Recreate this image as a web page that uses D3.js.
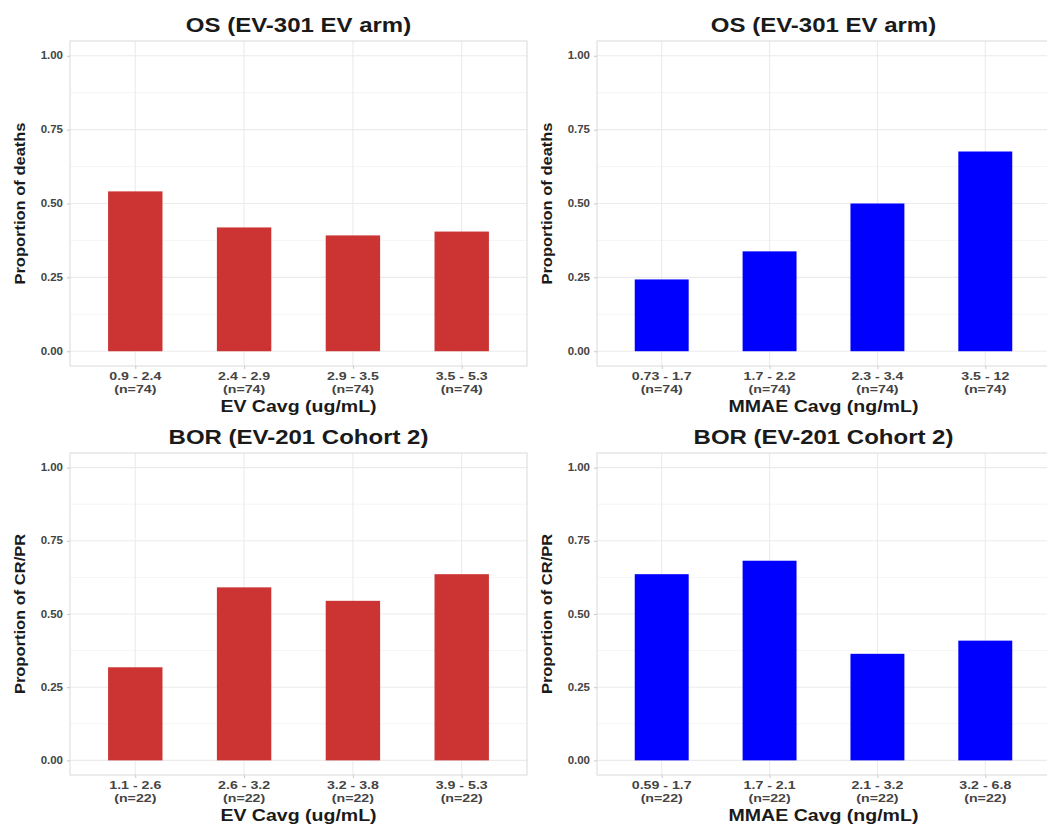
<!DOCTYPE html>
<html>
<head>
<meta charset="utf-8">
<script src="https://cdn.jsdelivr.net/npm/d3@7"></script>
<style>
  html, body { margin: 0; padding: 0; background: #fff; }
  svg { display: block; }
  text { font-family: "Liberation Sans", Arial, Helvetica, sans-serif; font-weight: bold; }
</style>
</head>
<body>
<svg id="chart" width="1047" height="826"></svg>
<script>
// Exposure-response bar charts: proportion of events by Cavg quartile

// OS (EV-301, EV arm) — EV Cavg quartiles
const evOsBins = ["0.9 - 2.4", "2.4 - 2.9", "2.9 - 3.5", "3.5 - 5.3"];
const evOsN = [74, 74, 74, 74];
const evOsDeaths = [0.541, 0.419, 0.392, 0.405];

// OS (EV-301, EV arm) — MMAE Cavg quartiles
const mmaeOsBins = ["0.73 - 1.7", "1.7 - 2.2", "2.3 - 3.4", "3.5 - 12"];
const mmaeOsN = [74, 74, 74, 74];
const mmaeOsDeaths = [0.243, 0.338, 0.500, 0.676];

// BOR (EV-201 Cohort 2) — EV Cavg quartiles
const evBorBins = ["1.1 - 2.6", "2.6 - 3.2", "3.2 - 3.8", "3.9 - 5.3"];
const evBorN = [22, 22, 22, 22];
const evBorResp = [0.318, 0.591, 0.545, 0.636];

// BOR (EV-201 Cohort 2) — MMAE Cavg quartiles
const mmaeBorBins = ["0.59 - 1.7", "1.7 - 2.1", "2.1 - 3.2", "3.2 - 6.8"];
const mmaeBorN = [22, 22, 22, 22];
const mmaeBorResp = [0.636, 0.682, 0.364, 0.409];

const yTicks = [0, 0.25, 0.5, 0.75, 1];
const yMinor = [0.125, 0.375, 0.625, 0.875];

const RED = "#CC3333";
const BLUE = "#0000FF";

const svg = d3.select("#chart");

const panels = [
  { title: "OS (EV-301 EV arm)", xTitle: "EV Cavg (ug/mL)", yTitle: "Proportion of deaths",
    bins: evOsBins, n: evOsN, vals: evOsDeaths, color: RED,
    x0: 70, x1: 527, y0: 41, y1: 366 },
  { title: "OS (EV-301 EV arm)", xTitle: "MMAE Cavg (ng/mL)", yTitle: "Proportion of deaths",
    bins: mmaeOsBins, n: mmaeOsN, vals: mmaeOsDeaths, color: BLUE,
    x0: 597, x1: 1050, y0: 41, y1: 366 },
  { title: "BOR (EV-201 Cohort 2)", xTitle: "EV Cavg (ug/mL)", yTitle: "Proportion of CR/PR",
    bins: evBorBins, n: evBorN, vals: evBorResp, color: RED,
    x0: 70, x1: 527, y0: 453, y1: 775 },
  { title: "BOR (EV-201 Cohort 2)", xTitle: "MMAE Cavg (ng/mL)", yTitle: "Proportion of CR/PR",
    bins: mmaeBorBins, n: mmaeBorN, vals: mmaeBorResp, color: BLUE,
    x0: 597, x1: 1050, y0: 453, y1: 775 }
];

// text with an optional stretch along the reading direction
function label(g, x, y, str, opts) {
  const s = opts.stretch || 1.15;
  const tr = `translate(${x},${y})` + (opts.rotate ? ` rotate(${opts.rotate})` : "") + ` scale(${s},1)`;
  return g.append("g").attr("transform", tr)
    .append("text")
    .attr("text-anchor", opts.anchor || "middle")
    .attr("font-size", opts.size)
    .attr("fill", opts.fill || "#1a1a1a")
    .text(str);
}

panels.forEach(p => {
  const g = svg.append("g");
  const x = d3.scalePoint().domain(p.bins).range([p.x0, p.x1]).padding(0.6);
  const y = d3.scaleLinear().domain([-0.05, 1.05]).range([p.y1, p.y0]);
  const bw = x.step() * 0.5;

  // panel background and grid
  g.append("rect").attr("x", p.x0).attr("y", p.y0)
    .attr("width", p.x1 - p.x0).attr("height", p.y1 - p.y0)
    .attr("fill", "#fff");
  g.selectAll(".minor").data(yMinor).join("line")
    .attr("x1", p.x0).attr("x2", p.x1)
    .attr("y1", d => y(d)).attr("y2", d => y(d))
    .attr("stroke", "#f3f3f3").attr("stroke-width", 0.8);
  g.selectAll(".major").data(yTicks).join("line")
    .attr("x1", p.x0).attr("x2", p.x1)
    .attr("y1", d => y(d)).attr("y2", d => y(d))
    .attr("stroke", "#ebebeb").attr("stroke-width", 1.1);
  g.selectAll(".vgrid").data(p.bins).join("line")
    .attr("x1", d => x(d)).attr("x2", d => x(d))
    .attr("y1", p.y0).attr("y2", p.y1)
    .attr("stroke", "#ebebeb").attr("stroke-width", 1.1);

  // bars
  g.selectAll(".bar").data(p.bins).join("rect")
    .attr("x", d => x(d) - bw / 2)
    .attr("width", bw)
    .attr("y", (d, i) => y(p.vals[i]))
    .attr("height", (d, i) => y(0) - y(p.vals[i]))
    .attr("fill", p.color);

  // panel border
  g.append("rect").attr("x", p.x0).attr("y", p.y0)
    .attr("width", p.x1 - p.x0).attr("height", p.y1 - p.y0)
    .attr("fill", "none").attr("stroke", "#dcdcdc").attr("stroke-width", 1.1);

  // axes (ticks only; labels drawn below)
  const yAxis = d3.axisLeft(y).tickValues(yTicks).tickSize(3).tickFormat("");
  g.append("g").attr("transform", `translate(${p.x0},0)`).call(yAxis)
    .call(a => a.select(".domain").remove())
    .call(a => a.selectAll("line").attr("stroke", "#c8c8c8"));
  const xAxis = d3.axisBottom(x).tickSize(3).tickFormat("");
  g.append("g").attr("transform", `translate(0,${p.y1})`).call(xAxis)
    .call(a => a.select(".domain").remove())
    .call(a => a.selectAll("line").attr("stroke", "#c8c8c8"));

  // y tick labels
  yTicks.forEach(v => {
    label(g, p.x0 - 7, y(v) + 3.6, d3.format(".2f")(v), { anchor: "end", size: 10, fill: "#444" });
  });

  // x tick labels: range plus count
  p.bins.forEach((b, i) => {
    label(g, x(b), p.y1 + 14, b, { size: 10.5, fill: "#444", stretch: 1.35 });
    label(g, x(b), p.y1 + 27, `(n=${p.n[i]})`, { size: 10.5, fill: "#444", stretch: 1.35 });
  });

  // titles
  const cx = (p.x0 + p.x1) / 2;
  label(g, cx, p.y0 - 9, p.title, { size: 20, stretch: 1.2 });
  label(g, cx, p.y1 + 46, p.xTitle, { size: 17, stretch: 1.15 });
  label(g, p.x0 - 45, (p.y0 + p.y1) / 2, p.yTitle, { size: 15, rotate: -90, stretch: 1.1 });
});
</script>
</body>
</html>
